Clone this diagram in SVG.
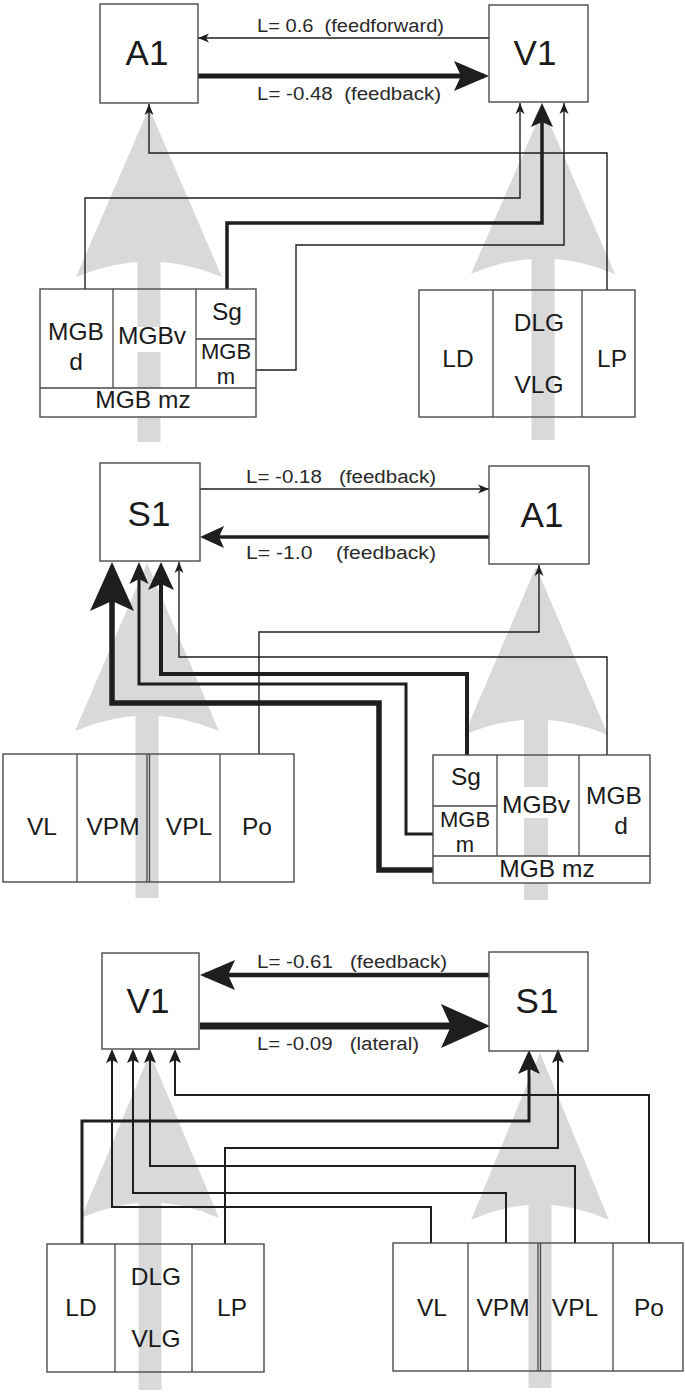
<svg xmlns="http://www.w3.org/2000/svg" width="685" height="1393" viewBox="0 0 685 1393">
<style>
.bg{fill:#d9d9d9;stroke:none}
.box{fill:none;stroke:#4a4a4a;stroke-width:1.4}
.dv{stroke:#4a4a4a;stroke-width:1.3;fill:none}
.wh{fill:#fff;stroke:none}
.c{fill:none;stroke:#1e1e1e;stroke-linejoin:miter;stroke-linecap:butt}
.big{font-family:"Liberation Sans",Arial,sans-serif;font-size:35px;fill:#1a1a1a;text-anchor:middle}
.nd{font-family:"Liberation Sans",Arial,sans-serif;font-size:24.5px;fill:#1a1a1a;text-anchor:middle}
.sm{font-size:22px}
.lab{font-family:"Liberation Sans",Arial,sans-serif;font-size:18px;fill:#2a2a2a;white-space:pre}
</style>
<defs>
<marker id="aS" markerUnits="userSpaceOnUse" viewBox="0 0 11 9" markerWidth="11" markerHeight="9" refX="11" refY="4.5" orient="auto" overflow="visible"><path d="M0,0 L11,4.5 L0,9 L3,4.5 Z" fill="#1e1e1e"/></marker>
<marker id="aM" markerUnits="userSpaceOnUse" viewBox="0 0 14 12" markerWidth="14" markerHeight="12" refX="12" refY="6" orient="auto" overflow="visible"><path d="M0,0 L14,6 L0,12 L3,6 Z" fill="#1e1e1e"/></marker>
<marker id="aL" markerUnits="userSpaceOnUse" viewBox="0 0 24 22" markerWidth="24" markerHeight="22" refX="20" refY="11" orient="auto" overflow="visible"><path d="M0,0 L24,11 L0,22 L5,11 Z" fill="#1e1e1e"/></marker>
<marker id="aL2" markerUnits="userSpaceOnUse" viewBox="0 0 22 19" markerWidth="22" markerHeight="19" refX="18" refY="9.5" orient="auto" overflow="visible"><path d="M0,0 L22,9.5 L0,19 L5,9.5 Z" fill="#1e1e1e"/></marker>
<marker id="aL3" markerUnits="userSpaceOnUse" viewBox="0 0 28 26" markerWidth="28" markerHeight="26" refX="23" refY="13" orient="auto" overflow="visible"><path d="M0,0 L28,13 L0,26 L6,13 Z" fill="#1e1e1e"/></marker>
<marker id="aXL" markerUnits="userSpaceOnUse" viewBox="0 0 35 30" markerWidth="35" markerHeight="30" refX="30" refY="15" orient="auto" overflow="visible"><path d="M0,0 L35,15 L0,30 L7,15 Z" fill="#1e1e1e"/></marker>
<marker id="aXXL" markerUnits="userSpaceOnUse" viewBox="0 0 49 44" markerWidth="49" markerHeight="44" refX="41" refY="22" orient="auto" overflow="visible"><path d="M0,0 L49,22 L0,44 L10,22 Z" fill="#1e1e1e"/></marker>
</defs>
<rect width="685" height="1393" fill="#fff"/>

<!-- background grey pathway arrows -->
<g id="pathways">
<path class="bg" d="M149,108 L222,277 Q149,246 76,277 Z"/><rect class="bg" x="137.5" y="255" width="23" height="187"/>
<path class="bg" d="M543,108 L615,274 Q543,243 471,274 Z"/><rect class="bg" x="531.5" y="252" width="23" height="188"/>
<path class="bg" d="M147,563 L219,731 Q147,700 75,731 Z"/><rect class="bg" x="135.5" y="709" width="23" height="189"/>
<path class="bg" d="M536,567 L608,735 Q536,704 464,735 Z"/><rect class="bg" x="524" y="713" width="24" height="187"/>
<path class="bg" d="M150,1053 L219,1218 Q150,1187 81,1218 Z"/><rect class="bg" x="138.5" y="1196" width="23" height="194"/>
<path class="bg" d="M540,1053 L609,1220 Q540,1189 471,1220 Z"/><rect class="bg" x="528.5" y="1198" width="23" height="190"/>
</g>

<!-- connectors -->
<g id="connectors">
<!-- panel 1 -->
<path class="c" stroke-width="1.4" d="M489,38 H198" marker-end="url(#aS)"/>
<path class="c" stroke-width="5" d="M198,76 H484" marker-end="url(#aXL)"/>
<path class="c" stroke-width="1.4" d="M607,290 V153 H149 V104" marker-end="url(#aS)"/>
<path class="c" stroke-width="1.4" d="M85,289 V198 H520 V103" marker-end="url(#aS)"/>
<path class="c" stroke-width="3.5" d="M227,289 V223 H542 V107" marker-end="url(#aL)"/>
<path class="c" stroke-width="1.4" d="M256,370 H296 V245 H564 V103" marker-end="url(#aS)"/>
<!-- panel 2 -->
<path class="c" stroke-width="1.4" d="M200,489 H489" marker-end="url(#aS)"/>
<path class="c" stroke-width="3.5" d="M489,537 H204" marker-end="url(#aL)"/>
<path class="c" stroke-width="5.5" d="M433,870 H379 V703 H112 V570" marker-end="url(#aXXL)"/>
<path class="c" stroke-width="3" d="M433,834 H406 V684 H139 V566" marker-end="url(#aL2)"/>
<path class="c" stroke-width="4" d="M467,755 V674 H161 V567" marker-end="url(#aL3)"/>
<path class="c" stroke-width="1.4" d="M607,755 V657 H179 V562" marker-end="url(#aS)"/>
<path class="c" stroke-width="1.4" d="M259,754 V632 H539 V565" marker-end="url(#aS)"/>
<!-- panel 3 -->
<path class="c" stroke-width="4.5" d="M489,975 H205" marker-end="url(#aXL)"/>
<path class="c" stroke-width="7" d="M200,1026 H482" marker-end="url(#aXXL)"/>
<path class="c" stroke-width="2" d="M649,1243 V1095 H175 V1051" marker-end="url(#aM)"/>
<path class="c" stroke-width="2" d="M431,1243 V1207 H112 V1051" marker-end="url(#aM)"/>
<path class="c" stroke-width="2" d="M506,1243 V1193 H133 V1051" marker-end="url(#aM)"/>
<path class="c" stroke-width="2" d="M575,1243 V1166 H150 V1051" marker-end="url(#aM)"/>
<path class="c" stroke-width="3" d="M82,1244 V1121 H529 V1054" marker-end="url(#aL)"/>
<path class="c" stroke-width="2" d="M225,1244 V1148 H558 V1051" marker-end="url(#aM)"/>
</g>

<g id="labels">
<text class="lab" xml:space="preserve" x="257" y="32" textLength="187" lengthAdjust="spacingAndGlyphs">L= 0.6  (feedforward)</text>
<text class="lab" xml:space="preserve" x="257" y="100" textLength="184" lengthAdjust="spacingAndGlyphs">L= -0.48  (feedback)</text>
<text class="lab" xml:space="preserve" x="246" y="483" textLength="190" lengthAdjust="spacingAndGlyphs">L= -0.18   (feedback)</text>
<text class="lab" xml:space="preserve" x="246" y="559" textLength="190" lengthAdjust="spacingAndGlyphs">L= -1.0    (feedback)</text>
<text class="lab" xml:space="preserve" x="257" y="968" textLength="190" lengthAdjust="spacingAndGlyphs">L= -0.61   (feedback)</text>
<text class="lab" xml:space="preserve" x="257" y="1050" textLength="162" lengthAdjust="spacingAndGlyphs">L= -0.09   (lateral)</text>
</g>

<!-- panel 1 -->
<g id="p1-A1"><rect class="box" x="100" y="4" width="98" height="99"/><text class="big" x="147" y="65">A1</text></g>
<g id="p1-V1"><rect class="box" x="489" y="5" width="99" height="97"/><text class="big" x="535" y="65">V1</text></g>
<g id="p1-MGB">
<rect class="wh" x="116" y="327" width="76" height="25"/>
<rect class="wh" x="40" y="388" width="216" height="29"/>
<rect class="box" x="40" y="289" width="216" height="128"/>
<path class="dv" d="M113,289 V388 M196,289 V388 M40,388 H256 M196,339 H256"/>
<text class="nd" x="76" y="340">MGB</text><text class="nd" x="76" y="370">d</text>
<text class="nd" x="152" y="344">MGBv</text>
<text class="nd" x="227" y="320">Sg</text>
<text class="nd sm" x="226" y="359">MGB</text><text class="nd sm" x="226" y="384">m</text>
<text class="nd" x="143" y="408">MGB mz</text>
</g>
<g id="p1-LGN">
<rect class="box" x="419" y="290" width="216" height="127"/>
<path class="dv" d="M493,290 V417 M582,290 V417"/>
<text class="nd" x="458" y="367">LD</text>
<text class="nd" x="539" y="331">DLG</text><text class="nd" x="539" y="393">VLG</text>
<text class="nd" x="612" y="367">LP</text>
</g>

<!-- panel 2 -->
<g id="p2-S1"><rect class="box" x="100" y="463" width="100" height="98"/><text class="big" x="149" y="526">S1</text></g>
<g id="p2-A1"><rect class="box" x="489" y="466" width="100" height="98"/><text class="big" x="542" y="527">A1</text></g>
<g id="p2-VB">
<rect class="box" x="3" y="754" width="291" height="128"/>
<path class="dv" d="M77,754 V882 M147,754 V882 M149.5,754 V882 M220,754 V882"/>
<text class="nd" x="42" y="835">VL</text>
<text class="nd" x="113" y="835">VPM</text>
<text class="nd" x="189" y="835">VPL</text>
<text class="nd" x="257" y="835">Po</text>
</g>
<g id="p2-MGB">
<rect class="wh" x="500" y="787" width="74" height="31"/>
<rect class="wh" x="433" y="856" width="217" height="27"/>
<rect class="box" x="433" y="755" width="217" height="128"/>
<path class="dv" d="M497,755 V856 M579,755 V856 M433,856 H650 M433,806 H497"/>
<text class="nd" x="466" y="785">Sg</text>
<text class="nd sm" x="465" y="827">MGB</text><text class="nd sm" x="465" y="852">m</text>
<text class="nd" x="536" y="813">MGBv</text>
<text class="nd" x="614" y="804">MGB</text><text class="nd" x="621" y="834">d</text>
<text class="nd" x="547" y="877">MGB mz</text>
</g>

<!-- panel 3 -->
<g id="p3-V1"><rect class="box" x="102" y="953" width="97" height="96"/><text class="big" x="148" y="1013">V1</text></g>
<g id="p3-S1"><rect class="box" x="489" y="952" width="99" height="99"/><text class="big" x="537" y="1013">S1</text></g>
<g id="p3-LGN">
<rect class="box" x="47" y="1244" width="217" height="128"/>
<path class="dv" d="M115,1244 V1372 M192,1244 V1372"/>
<text class="nd" x="81" y="1316">LD</text>
<text class="nd" x="156" y="1285">DLG</text><text class="nd" x="156" y="1347">VLG</text>
<text class="nd" x="232" y="1316">LP</text>
</g>
<g id="p3-VB">
<rect class="box" x="393" y="1243" width="290" height="128"/>
<path class="dv" d="M468,1243 V1371 M538,1243 V1371 M540.5,1243 V1371 M613,1243 V1371"/>
<text class="nd" x="432" y="1316">VL</text>
<text class="nd" x="503" y="1316">VPM</text>
<text class="nd" x="575" y="1316">VPL</text>
<text class="nd" x="649" y="1316">Po</text>
</g>
</svg>
